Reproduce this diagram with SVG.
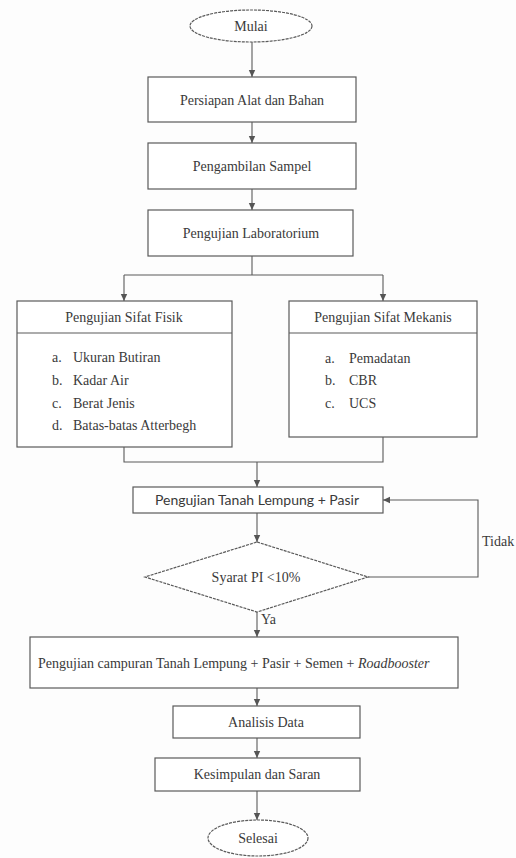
<svg xmlns="http://www.w3.org/2000/svg" width="516" height="858" viewBox="0 0 516 858">
<style>
.s{fill:#fff;stroke:#5a5a5a;stroke-width:1.2}
.t{font-family:"Liberation Serif","DejaVu Serif",serif;font-size:14px;fill:#3a3a3a}
.c{text-anchor:middle}
.sans{font-family:Lato,"Open Sans","Liberation Sans",sans-serif;font-size:14px;fill:#3a3a3a}
.ln{fill:none;stroke:#5a5a5a;stroke-width:1.1}
</style>
<defs>
<marker id="ah" markerWidth="8" markerHeight="8" refX="7" refY="4" orient="auto" markerUnits="userSpaceOnUse">
<path d="M0,0.8 L7,4 L0,7.2 Z" fill="#555"/>
</marker>
</defs>
<rect width="516" height="858" fill="#fdfdfd"/>
<g id="connectors">
<path class="ln" d="M252,42 V77" marker-end="url(#ah)"/>
<path class="ln" d="M252,122 V143" marker-end="url(#ah)"/>
<path class="ln" d="M252,189 V210" marker-end="url(#ah)"/>
<path class="ln" d="M252,256 V275"/>
<path class="ln" d="M124,275 H383"/>
<path class="ln" d="M124,275 V301" marker-end="url(#ah)"/>
<path class="ln" d="M383,275 V301" marker-end="url(#ah)"/>
<path class="ln" d="M124,447 V462 H383 V437"/>
<path class="ln" d="M257,462 V487" marker-end="url(#ah)"/>
<path class="ln" d="M257,513 V542" marker-end="url(#ah)"/>
<path class="ln" d="M368,577 H478 V500 H383" marker-end="url(#ah)"/>
<path class="ln" d="M257,612 V637" marker-end="url(#ah)"/>
<path class="ln" d="M257,688 V706" marker-end="url(#ah)"/>
<path class="ln" d="M257,738 V758" marker-end="url(#ah)"/>
<path class="ln" d="M257,791 V820" marker-end="url(#ah)"/>
<text class="t" x="482" y="546">Tidak</text>
<text class="t" x="261" y="624">Ya</text>
</g>
<g id="mulai">
<ellipse class="s" cx="251" cy="26" rx="61" ry="16" stroke-dasharray="3,1"/>
<text class="t c" x="251" y="31">Mulai</text>
</g>
<g id="persiapan">
<rect class="s" x="148" y="77" width="208" height="45"/>
<text class="t c" x="252" y="105">Persiapan Alat dan Bahan</text>
</g>
<g id="pengambilan">
<rect class="s" x="148" y="143" width="208" height="46"/>
<text class="t c" x="252" y="171">Pengambilan Sampel</text>
</g>
<g id="laboratorium">
<rect class="s" x="148" y="210" width="205" height="46"/>
<text class="t c" x="251" y="238">Pengujian Laboratorium</text>
</g>
<g id="fisik">
<rect class="s" x="17" y="301" width="215" height="146"/>
<path class="ln" d="M17,333 H232"/>
<text class="t c" x="124" y="322">Pengujian Sifat Fisik</text>
<text class="t" x="52" y="362">a.</text><text class="t" x="73" y="362">Ukuran Butiran</text>
<text class="t" x="52" y="385">b.</text><text class="t" x="73" y="385">Kadar Air</text>
<text class="t" x="52" y="408">c.</text><text class="t" x="73" y="408">Berat Jenis</text>
<text class="t" x="52" y="430">d.</text><text class="t" x="73" y="430">Batas-batas Atterbegh</text>
</g>
<g id="mekanis">
<rect class="s" x="289" y="301" width="188" height="136"/>
<path class="ln" d="M289,333 H477"/>
<text class="t c" x="383" y="322">Pengujian Sifat Mekanis</text>
<text class="t" x="325" y="363">a.</text><text class="t" x="349" y="363">Pemadatan</text>
<text class="t" x="325" y="385">b.</text><text class="t" x="349" y="385">CBR</text>
<text class="t" x="325" y="408">c.</text><text class="t" x="349" y="408">UCS</text>
</g>
<g id="tanah">
<rect class="s" x="133" y="487" width="250" height="26"/>
<text class="sans c" x="257" y="505">Pengujian Tanah Lempung + Pasir</text>
</g>
<g id="syarat">
<polygon class="s" points="257,542 368,577 257,612 145,577" stroke-dasharray="3,1"/>
<text class="t c" x="256" y="582">Syarat PI &lt;10%</text>
</g>
<g id="campuran">
<rect class="s" x="30" y="637" width="428" height="51"/>
<text class="t" x="38" y="668">Pengujian campuran Tanah Lempung + Pasir + Semen + <tspan font-style="italic">Roadbooster</tspan></text>
</g>
<g id="analisis">
<rect class="s" x="173" y="706" width="187" height="32"/>
<text class="t c" x="266" y="727">Analisis Data</text>
</g>
<g id="kesimpulan">
<rect class="s" x="155" y="758" width="205" height="33"/>
<text class="t c" x="257" y="779">Kesimpulan dan Saran</text>
</g>
<g id="selesai">
<ellipse class="s" cx="258" cy="838" rx="50" ry="18" stroke-dasharray="3,1"/>
<text class="t c" x="258" y="843">Selesai</text>
</g>
</svg>
